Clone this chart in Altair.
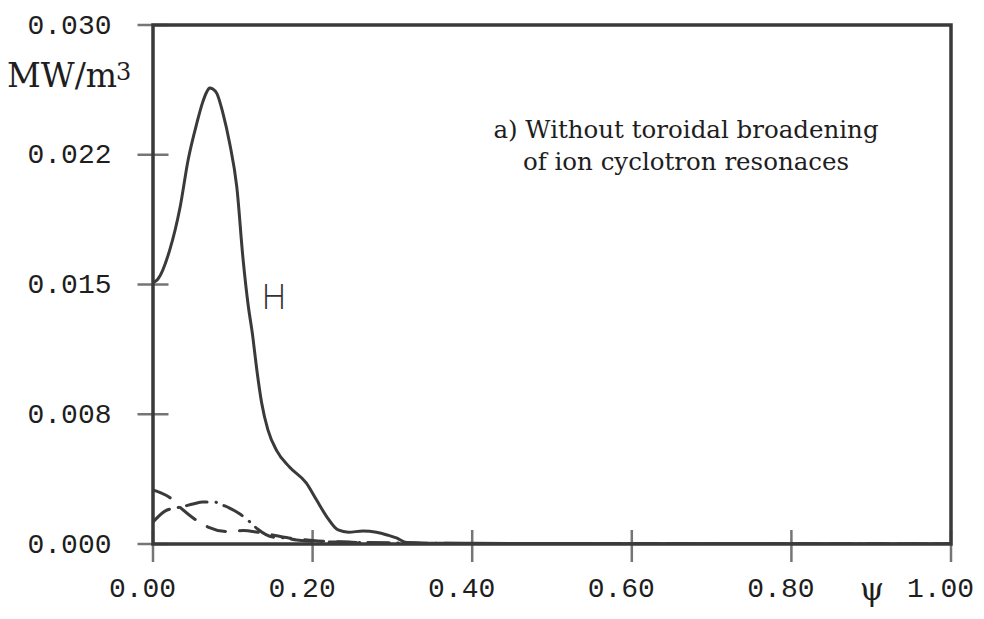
import altair as alt
import pandas as pd

# ---- data ----
# solid curve labelled "H"
psi_H = [0.0, 0.006, 0.021, 0.034, 0.044, 0.055, 0.062, 0.067, 0.071, 0.075, 0.080,
         0.0876, 0.096, 0.105, 0.113, 0.119, 0.125, 0.130, 0.136, 0.144, 0.155, 0.171,
         0.192, 0.205, 0.218, 0.232, 0.245, 0.263, 0.280, 0.295, 0.305, 0.318, 0.34,
         0.40, 0.50, 0.60, 0.80, 1.00]
val_H = [0.0151, 0.0153, 0.0170, 0.01948, 0.0222, 0.02434, 0.0255, 0.0261, 0.02636,
         0.0263, 0.02605, 0.02491, 0.02318, 0.02064, 0.0164, 0.0139, 0.0120, 0.0101,
         0.0082, 0.0066, 0.0054, 0.00445, 0.00353, 0.00254, 0.00156, 0.00081, 0.00068,
         0.00075, 0.00068, 0.00050, 0.00035, 0.00008, 0.00005, 0.00004, 0.00003,
         0.00002, 0.00001, 0.0]

# dash-dot curve
psi_A = [0.0, 0.015, 0.028, 0.035, 0.050, 0.0626, 0.076, 0.090, 0.109, 0.120, 0.131,
         0.150, 0.165, 0.180, 0.200, 0.250, 0.300, 0.400, 0.600, 1.000]
val_A = [0.00127, 0.0019, 0.00208, 0.00214, 0.00231, 0.00243, 0.00243, 0.0022, 0.00173,
         0.00133, 0.00087, 0.0004, 0.00035, 0.00023, 0.00015, 0.0001, 0.00006, 0.00003,
         0.00001, 0.0]

# dashed curve
psi_B = [0.0, 0.010, 0.020, 0.035, 0.052, 0.069, 0.094, 0.113, 0.131, 0.150, 0.170,
         0.200, 0.250, 0.300, 0.400, 1.000]
val_B = [0.00312, 0.00295, 0.00272, 0.00208, 0.00145, 0.00098, 0.00072, 0.00078,
         0.00068, 0.00052, 0.00035, 0.0002, 0.0001, 0.00005, 0.00002, 0.0]

x_ticks = [0.0, 0.2, 0.4, 0.6, 0.8, 1.0]
y_ticks = [0.0, 0.0075, 0.015, 0.0225, 0.03]
y_tick_labels = ["0.000", "0.008", "0.015", "0.022", "0.030"]

note_lines = ["a) Without toroidal broadening", "of ion cyclotron resonaces"]
unit_main = "MW/m"
unit_sup = "3"
curve_label = "H"
x_symbol = "\u03c8"

# ---- styling ----
INK = "#3a3a3a"
TXT = "#1e1e1e"
W, H = 798, 519

label_expr = "[" + ",".join("'%s'" % s for s in y_tick_labels) + "][round(datum.value/0.0075)]"

xscale = alt.Scale(domain=[0, 1], nice=False, zero=False)
yscale = alt.Scale(domain=[0, 0.03], nice=False, zero=False)

xaxis = alt.Axis(values=x_ticks, format=".2f", ticks=False, domain=False, grid=False,
                 labelFont="Liberation Mono", labelFontSize=28, labelColor=TXT,
                 labelPadding=30, labelOffset=-11, title=None, labelFlush=False)
yaxis = alt.Axis(values=y_ticks, labelExpr=label_expr, ticks=False, domain=False, grid=False,
                 labelFont="Liberation Mono", labelFontSize=28, labelColor=TXT,
                 labelPadding=42, title=None, labelFlush=False)

def line_layer(psi, val, dash=None):
    df = pd.DataFrame({"psi": psi, "val": val})
    kw = dict(color=INK, strokeWidth=3, interpolate="monotone", strokeCap="round",
              clip=True)
    if dash is not None:
        kw["strokeDash"] = dash
    return alt.Chart(df).mark_line(**kw).encode(
        x=alt.X("psi:Q", scale=xscale, axis=xaxis),
        y=alt.Y("val:Q", scale=yscale, axis=yaxis),
    )

lH = line_layer(psi_H, val_H)
lA = line_layer(psi_A, val_A, dash=[21, 9, 0.5, 8])
lB = line_layer(psi_B, val_B, dash=[19, 14])

# crossing tick marks
ytk = alt.Chart(pd.DataFrame({"t": y_ticks})).mark_tick(
    size=31, thickness=2.5, color=INK
).encode(y=alt.Y("t:Q", scale=yscale, axis=yaxis), x=alt.value(0))

xtk = alt.Chart(pd.DataFrame({"t": x_ticks})).mark_tick(
    size=32, thickness=2.5, color=INK
).encode(x=alt.X("t:Q", scale=xscale, axis=xaxis), y=alt.value(H + 2))

def txt(s, x, y, **kw):
    return alt.Chart(pd.DataFrame({"s": [s]})).mark_text(**kw).encode(
        text="s:N", x=alt.value(x), y=alt.value(y))

t_unit = txt(unit_main, -146, 62, font="DejaVu Serif", fontSize=33, align="left",
             baseline="alphabetic", color=TXT)
t_sup = txt(unit_sup, -37, 55, font="DejaVu Serif", fontSize=24, align="left",
            baseline="alphabetic", color=TXT)
t_n1 = txt(note_lines[0], 533, 113, font="DejaVu Serif", fontSize=24.5, align="center",
           baseline="alphabetic", color=TXT)
t_n2 = txt(note_lines[1], 533, 145, font="DejaVu Serif", fontSize=24.5, align="center",
           baseline="alphabetic", color=TXT)
t_H = txt(curve_label, 121, 274, font="Open Sans", fontSize=34, fontWeight=300,
          align="center", baseline="middle", color="#333333")
t_psi = txt(x_symbol, 719, 566, font="DejaVu Serif", fontSize=31, align="center",
            baseline="middle", color=TXT)

chart = alt.layer(lB, lA, lH, ytk, xtk, t_unit, t_sup, t_n1, t_n2, t_H, t_psi).properties(
    width=W, height=H,
    autosize=alt.AutoSizeParams(type="none"),
    padding={"left": 153, "top": 25, "right": 33, "bottom": 75},
    background="white",
).configure_view(stroke=INK, strokeWidth=3.5)

chart.save("out.html", embed_options={"renderer": "svg", "actions": False})
